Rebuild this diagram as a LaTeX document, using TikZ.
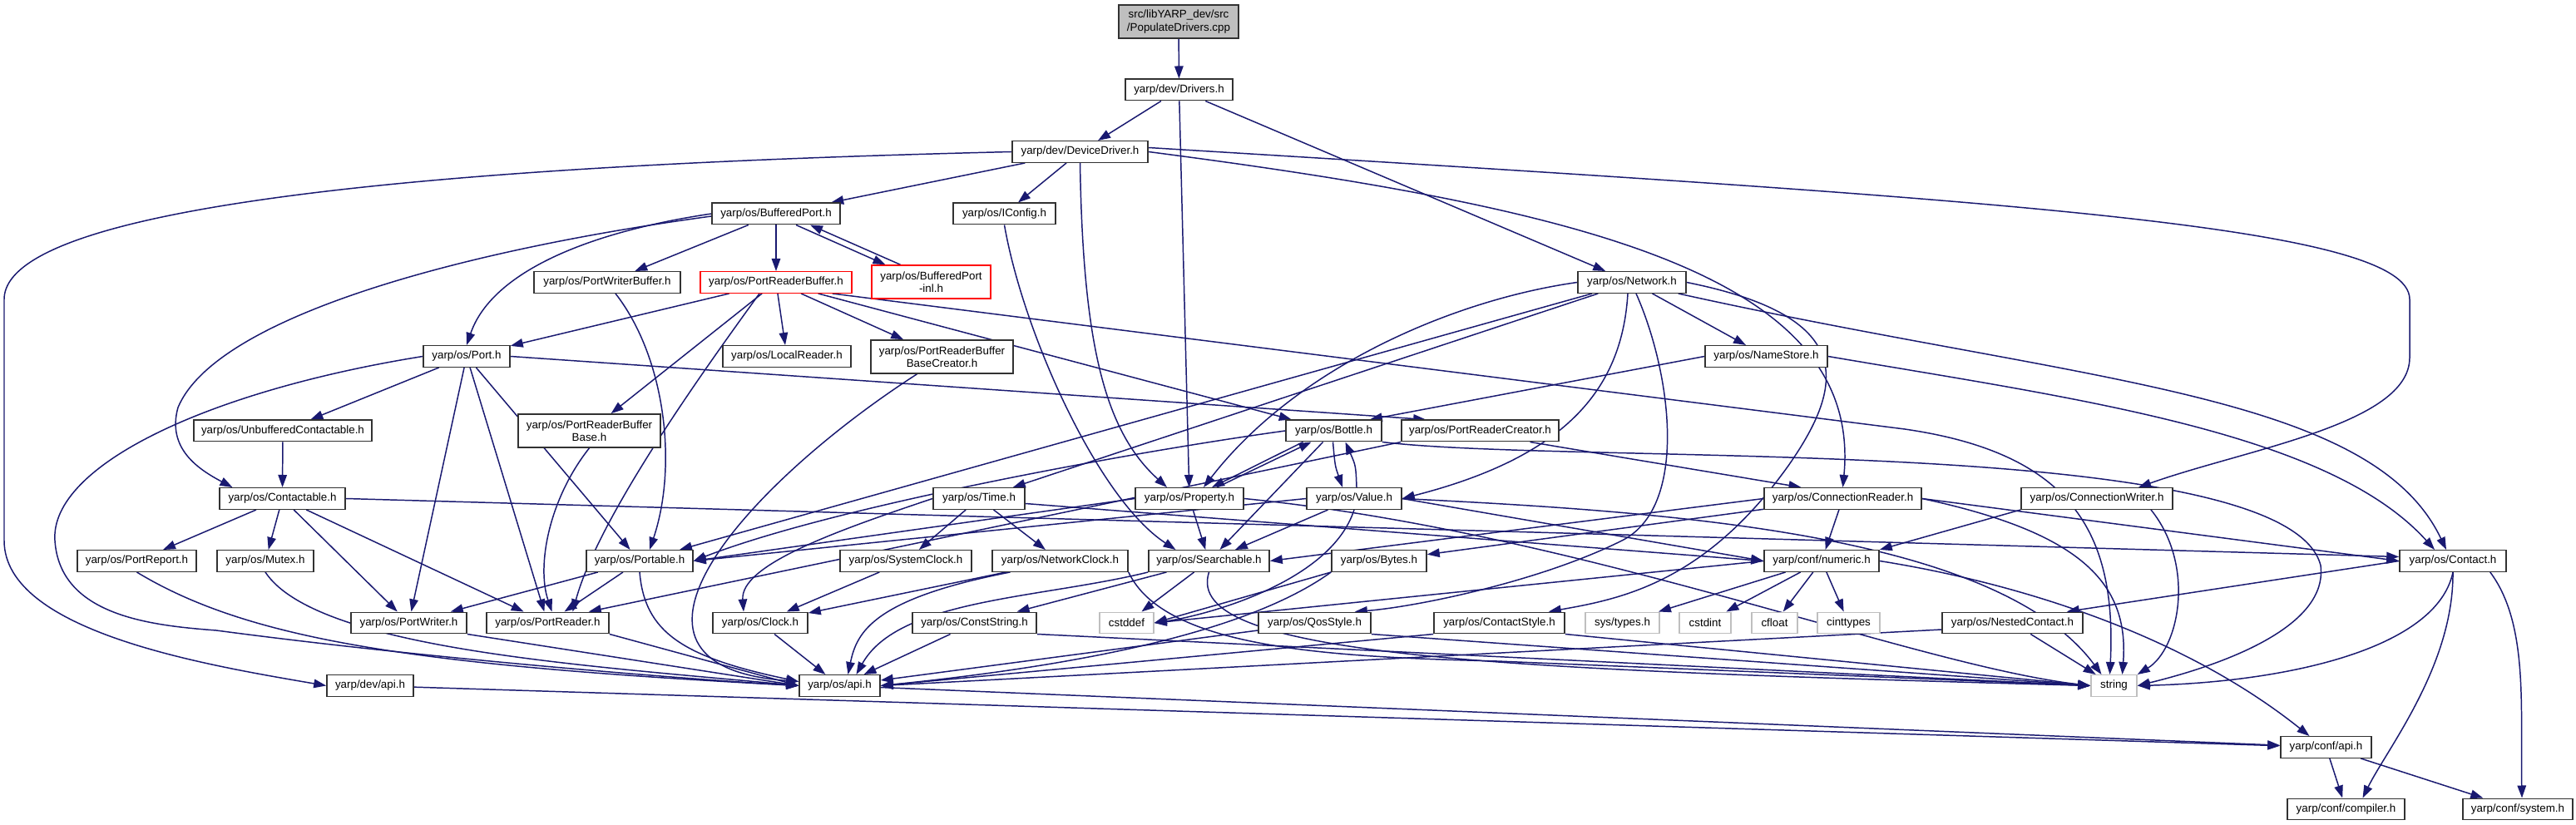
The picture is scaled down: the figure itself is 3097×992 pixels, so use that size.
\documentclass[tikz,border=0pt]{standalone}
\usepackage{fontspec}
\setmainfont{Liberation Sans}
\usetikzlibrary{arrows.meta,calc,backgrounds}
\definecolor{edgeblue}{RGB}{25,25,112}
\definecolor{graybd}{RGB}{191,191,191}
\definecolor{rootfill}{RGB}{191,191,191}
\definecolor{boxbd}{RGB}{50,50,50}
\newcommand\nodefont{\fontsize{3.8pt}{4.3pt}\selectfont}
\tikzset{
  box/.style={draw=boxbd, line width=0.42pt, fill=white, inner sep=0pt, minimum height=0.255cm, font=\nodefont, text=black, align=center},
  dbox/.style={box, minimum height=0.40cm},
  redbox/.style={box, draw=red},
  graybox/.style={box, draw=graybd},
  rootbox/.style={dbox, fill=rootfill},
  edge/.style={draw=edgeblue, line width=0.42pt, -{Triangle[length=0.15cm,width=0.105cm]}},
}
\begin{document}
\begin{tikzpicture}[x=0.01cm,y=-0.01cm]
\useasboundingbox (0,0) rectangle (3097,992);
% nodes
\node[rootbox, minimum width=1.44cm] (root) at (1417,26) {src/libYARP\_dev/src\\/PopulateDrivers.cpp};
\node[box, minimum width=1.29cm] (drivers) at (1417.5,108) {yarp/dev/Drivers.h};
\node[box, minimum width=1.63cm] (devdrv) at (1298.5,182.5) {yarp/dev/DeviceDriver.h};
\node[box, minimum width=1.54cm] (bufport) at (933,257) {yarp/os/BufferedPort.h};
\node[box, minimum width=1.23cm] (iconfig) at (1207.5,257) {yarp/os/IConfig.h};
\node[box, minimum width=1.76cm] (pwbuf) at (730,339.5) {yarp/os/PortWriterBuffer.h};
\node[redbox, minimum width=1.82cm] (prbuf) at (933,339.5) {yarp/os/PortReaderBuffer.h};
\node[redbox, minimum height=0.40cm, minimum width=1.43cm] (bpinl) at (1119.5,339) {yarp/os/BufferedPort\\-inl.h};
\node[box, minimum width=1.30cm] (network) at (1962,339.5) {yarp/os/Network.h};
\node[box, minimum width=1.04cm] (port) at (561,428.5) {yarp/os/Port.h};
\node[box, minimum width=1.54cm] (localreader) at (946,428.5) {yarp/os/LocalReader.h};
\node[dbox, minimum width=1.71cm] (prbbc) at (1132.5,429) {yarp/os/PortReaderBuffer\\BaseCreator.h};
\node[box, minimum width=1.47cm] (namestore) at (2123.5,428.5) {yarp/os/NameStore.h};
\node[box, minimum width=2.14cm] (unbuf) at (340,518) {yarp/os/UnbufferedContactable.h};
\node[dbox, minimum width=1.71cm] (prbbase) at (708.5,518) {yarp/os/PortReaderBuffer\\Base.h};
\node[box, minimum width=1.15cm] (bottle) at (1603.5,518) {yarp/os/Bottle.h};
\node[box, minimum width=1.89cm] (prcreator) at (1779.5,518) {yarp/os/PortReaderCreator.h};
\node[box, minimum width=1.51cm] (contactable) at (339.5,599.5) {yarp/os/Contactable.h};
\node[box, minimum width=1.10cm] (time) at (1177,599.5) {yarp/os/Time.h};
\node[box, minimum width=1.30cm] (property) at (1430,599.5) {yarp/os/Property.h};
\node[box, minimum width=1.14cm] (value) at (1628,599.5) {yarp/os/Value.h};
\node[box, minimum width=1.89cm] (connreader) at (2215.5,599.5) {yarp/os/ConnectionReader.h};
\node[box, minimum width=1.82cm] (connwriter) at (2521,599.5) {yarp/os/ConnectionWriter.h};
\node[box, minimum width=1.43cm] (portreport) at (164.5,674.5) {yarp/os/PortReport.h};
\node[box, minimum width=1.16cm] (mutex) at (319,674.5) {yarp/os/Mutex.h};
\node[box, minimum width=1.28cm] (portable) at (769,674.5) {yarp/os/Portable.h};
\node[box, minimum width=1.58cm] (sysclock) at (1089,674.5) {yarp/os/SystemClock.h};
\node[box, minimum width=1.63cm] (netclock) at (1274.5,674.5) {yarp/os/NetworkClock.h};
\node[box, minimum width=1.45cm] (searchable) at (1453.5,674.5) {yarp/os/Searchable.h};
\node[box, minimum width=1.14cm] (bytes) at (1658,674.5) {yarp/os/Bytes.h};
\node[box, minimum width=1.38cm] (numeric) at (2190,674.5) {yarp/conf/numeric.h};
\node[box, minimum width=1.28cm] (contact) at (2949,674.5) {yarp/os/Contact.h};
\node[box, minimum width=1.39cm] (portwriter) at (491.5,749) {yarp/os/PortWriter.h};
\node[box, minimum width=1.47cm] (portreader) at (658.5,749) {yarp/os/PortReader.h};
\node[box, minimum width=1.14cm] (clock) at (914,749) {yarp/os/Clock.h};
\node[box, minimum width=1.49cm] (conststring) at (1171.5,749) {yarp/os/ConstString.h};
\node[graybox, minimum width=0.65cm] (cstddef) at (1354.5,749) {cstddef};
\node[box, minimum width=1.35cm] (qosstyle) at (1580.5,749) {yarp/os/QosStyle.h};
\node[box, minimum width=1.57cm] (contactstyle) at (1802.5,749) {yarp/os/ContactStyle.h};
\node[graybox, minimum width=0.89cm] (systypes) at (1950.5,749) {sys/types.h};
\node[graybox, minimum width=0.62cm] (cstdint) at (2050,749) {cstdint};
\node[graybox, minimum width=0.55cm] (cfloat) at (2133.5,749) {cfloat};
\node[graybox, minimum width=0.75cm] (cinttypes) at (2222.5,749) {cinttypes};
\node[box, minimum width=1.69cm] (nested) at (2419.5,749) {yarp/os/NestedContact.h};
\node[box, minimum width=1.04cm] (devapi) at (445,824.5) {yarp/dev/api.h};
\node[box, minimum width=0.97cm] (osapi) at (1009.5,824.5) {yarp/os/api.h};
\node[graybox, minimum width=0.55cm] (string) at (2541.5,824.5) {string};
\node[box, minimum width=1.09cm] (confapi) at (2796.5,898.5) {yarp/conf/api.h};
\node[box, minimum width=1.41cm] (compiler) at (2820.5,973) {yarp/conf/compiler.h};
\node[box, minimum width=1.32cm] (system) at (3027,973) {yarp/conf/system.h};

\begin{pgfonlayer}{background}
\fill[white] (0,0) rectangle (3097,992);
% top
\draw[edge] (root) -- (drivers);
\draw[edge] (drivers) -- (devdrv);
\draw[edge] (drivers) -- (property);
\draw[edge] (drivers) -- (network);
% DeviceDriver
\draw[edge] (devdrv) -- (bufport);
\draw[edge] (devdrv) -- (iconfig);
\draw[edge] (devdrv.south) .. controls (1302,420) and (1330,520) .. ($(property.north)+(-27,0)$);
\draw[edge] (devdrv.west) .. controls (700,195) and (5,230) .. (5,360) -- (5,650) .. controls (5,760) and (250,800) .. (devapi.west);
\draw[edge] (devdrv.east) .. controls (1900,250) and (2240,330) .. (connreader.north);
\draw[edge] ($(devdrv.east)+(0,-5)$) .. controls (2400,240) and (2897,270) .. (2897,360) -- (2897,430) .. controls (2897,510) and (2700,540) .. ($(connwriter.north)+(50,0)$);
% BufferedPort
\draw[edge] (bufport.west) .. controls (700,280) and (590,330) .. (port.north);
\draw[edge] (bufport) -- (pwbuf);
\draw[edge] (bufport) -- (prbuf);
\draw[edge] ($(bufport.south)+(24,0)$) -- ($(bpinl.north)+(-55,0)$);
\draw[edge] ($(bpinl.north)+(-37,0)$) -- ($(bufport.south)+(41,0)$);
\draw[edge] ($(bufport.west)+(0,3)$) .. controls (560,300) and (260,380) .. (214,490) .. controls (200,540) and (240,565) .. ($(contactable.north)+(-60,0)$);
% PortReaderBuffer
\draw[edge] (prbuf) -- (port);
\draw[edge] (prbuf) -- (localreader);
\draw[edge] (prbuf) -- (prbbc);
\draw[edge] (prbuf) -- (prbbase);
\draw[edge] (prbuf) -- (bottle);
\draw[edge] ($(prbuf.south)+(-20,0)$) .. controls (850,440) and (720,620) .. ($(portreader.north)+(30,0)$);
\draw[edge] ($(prbuf.south east)+(-24,0)$) -- (2290,516) .. controls (2490,545) and (2545,640) .. ($(string.north)+(-5,0)$);
% Port
\draw[edge] (port) -- (unbuf);
\draw[edge] (port) -- (portwriter);
\draw[edge] (port) -- (portreader);
\draw[edge] (port) -- (portable);
\draw[edge] (port.east) -- ($(prcreator.north west)+(30,0)$);
\draw[edge] (port.west) .. controls (250,470) and (60,560) .. (66,650) .. controls (72,740) and (180,752) .. (260,758) .. controls (500,790) and (800,815) .. (osapi.west);
\draw[edge] (unbuf) -- (contactable);
\draw[edge] ($(pwbuf.south)+(10,0)$) .. controls (800,430) and (815,560) .. ($(portable.north)+(12,0)$);
\draw[edge] (prbbase.south) .. controls (660,600) and (645,680) .. ($(portreader.north)+(5,0)$);
\draw[edge] ($(prbbc.south)+(-30,0)$) .. controls (900,580) and (700,800) .. ($(osapi.west)+(0,-5)$);
\draw[edge] (iconfig.south) .. controls (1230,400) and (1320,600) .. ($(searchable.north)+(-40,0)$);
% Network
\draw[edge] (network) -- (time);
\draw[edge] (network.west) .. controls (1750,360) and (1560,440) .. ($(property.north)+(17,0)$);
\draw[edge] (network) -- (portable);
\draw[edge] ($(network.south)+(-5,0)$) .. controls (1950,470) and (1880,550) .. (value.east);
\draw[edge] (network) -- (namestore);
\draw[edge] ($(network.south)+(5,0)$) .. controls (2010,450) and (2030,610) .. (1950,650) .. controls (1850,700) and (1700,730) .. ($(qosstyle.north east)+(-20,0)$);
\draw[edge] (network.east) .. controls (2230,380) and (2220,460) .. (2150,560) .. controls (2050,700) and (1950,720) .. ($(contactstyle.north east)+(-20,0)$);
\draw[edge] ($(network.south east)+(-10,0)$) .. controls (2500,460) and (2850,470) .. ($(contact.north)+(-8,0)$);
\draw[edge] (namestore.west) -- ($(bottle.north east)+(-15,0)$);
\draw[edge] (namestore.east) .. controls (2500,480) and (2800,520) .. ($(contact.north)+(-22,0)$);
% Contactable
\draw[edge] (contactable) -- (portreport);
\draw[edge] (contactable) -- (mutex);
\draw[edge] (contactable) -- (portwriter);
\draw[edge] (contactable) -- (portreader);
\draw[edge] (contactable.east) -- ($(contact.west)+(0,-5)$);
% Bottle / Value / Property
\draw[edge] ($(bottle.south)+(-1,0)$) .. controls (1605,560) .. ($(value.north)+(-14,0)$);
\draw[edge] ($(value.north)+(3,0)$) .. controls (1630,560) .. ($(bottle.south)+(14,0)$);
\draw[edge] ($(property.north)+(33,0)$) -- ($(bottle.south)+(-27,0)$);
\draw[edge] ($(bottle.south)+(-37,0)$) -- ($(property.north)+(27,0)$);
\draw[edge] (bottle) -- (searchable);
\draw[edge] (bottle.west) .. controls (1350,545) and (1000,610) .. (portable.east);
\draw[edge] (bottle.south east) .. controls (1900,560) and (2750,520) .. (2790,680) .. controls (2800,760) and (2650,805) .. (string.east);
\draw[edge] ($(prcreator.south)+(60,0)$) -- ($(connreader.north)+(-50,0)$);
\draw[edge] (prcreator.south west) -- ($(portreader.north east)+(-25,0)$);
\draw[edge] (property) -- (searchable);
\draw[edge] (property.west) -- (portable.east);
\draw[edge] (property.east) .. controls (1900,640) and (2300,800) .. (string.west);
\draw[edge] (value) -- (searchable);
\draw[edge] (value.west) -- (portable.east);
\draw[edge] (value.east) -- (numeric.west);
\draw[edge] (value.east) .. controls (2000,615) and (2400,640) .. ($(string.north)+(-15,0)$);
\draw[edge] (value.south) .. controls (1600,700) and (1450,740) .. (cstddef.east);
% Time & clocks
\draw[edge] (time.west) .. controls (1000,640) and (890,680) .. ($(clock.north)+(-20,0)$);
\draw[edge] (time) -- (sysclock);
\draw[edge] (time) -- (netclock);
\draw[edge] ($(time.east)+(0,6)$) -- (numeric.west);
\draw[edge] (sysclock) -- (clock);
\draw[edge] (netclock) -- (clock);
\draw[edge] ($(netclock.south)+(-60,0)$) .. controls (1050,720) and (1030,760) .. ($(osapi.north)+(10,0)$);
\draw[edge] (netclock.south east) .. controls (1400,780) and (1600,790) .. (1800,795) -- (string.west);
% Searchable
\draw[edge] (searchable) -- (cstddef);
\draw[edge] (searchable) -- (conststring);
\draw[edge] (searchable.south west) .. controls (1250,720) and (1080,720) .. ($(osapi.north)+(20,0)$);
\draw[edge] (searchable.south) .. controls (1420,790) and (1800,805) .. (string.west);
% Connection reader / writer
\draw[edge] (connreader.west) -- (searchable.east);
\draw[edge] (connreader) -- (bytes);
\draw[edge] (connreader) -- (numeric);
\draw[edge] (connreader.east) -- (contact.west);
\draw[edge] (connreader.east) .. controls (2500,640) and (2560,700) .. ($(string.north)+(10,0)$);
\draw[edge] (connwriter.south west) -- (numeric.north east);
\draw[edge] ($(connwriter.south)+(65,0)$) .. controls (2640,680) and (2620,780) .. (string.north east);
% Bytes, numeric
\draw[edge] (bytes.south west) .. controls (1500,760) and (1300,800) .. (osapi.east);
\draw[edge] (bytes.south west) -- (cstddef.east);
\draw[edge] (numeric) -- (systypes);
\draw[edge] (numeric) -- (cstdint);
\draw[edge] (numeric) -- (cfloat);
\draw[edge] (numeric) -- (cinttypes);
\draw[edge] (numeric.west) -- (cstddef.east);
\draw[edge] (numeric.east) .. controls (2420,700) and (2620,760) .. ($(confapi.north)+(-20,0)$);
% styles, nested, contact
\draw[edge] (qosstyle) -- (osapi);
\draw[edge] (qosstyle.south east) -- (string.west);
\draw[edge] (contactstyle.south west) -- (osapi.east);
\draw[edge] (contactstyle.south east) -- (string.west);
\draw[edge] ($(nested.west)+(0,8)$) -- (osapi.east);
\draw[edge] (nested) -- (string);
\draw[edge] (contact.west) -- ($(nested.north east)+(-20,0)$);
\draw[edge] (contact.south) .. controls (2930,780) and (2750,820) .. (string.east);
\draw[edge] (contact.south) .. controls (2950,800) and (2870,900) .. ($(compiler.north)+(20,0)$);
\draw[edge] ($(contact.south east)+(-20,0)$) .. controls (3040,750) and (3030,850) .. ($(system.north)+(5,0)$);
% low level
\draw[edge] (conststring) -- (osapi);
\draw[edge] (conststring.south east) -- (string.west);
\draw[edge] (clock) -- (osapi);
\draw[edge] (portable) -- (portwriter);
\draw[edge] (portable) -- (portreader);
\draw[edge] (portable.south) .. controls (775,760) and (820,790) .. ($(osapi.west)+(0,-5)$);
\draw[edge] (portwriter.south east) -- (osapi.west);
\draw[edge] (portreader.south east) -- (osapi.west);
\draw[edge] (portreport.south) .. controls (300,770) and (500,800) .. (osapi.west);
\draw[edge] (mutex.south) .. controls (380,780) and (700,800) .. (osapi.west);
\draw[edge] (osapi) -- (confapi);
\draw[edge] (devapi) -- (confapi);
\draw[edge] (confapi) -- (compiler);
\draw[edge] (confapi) -- (system);
\end{pgfonlayer}
\end{tikzpicture}
\end{document}
